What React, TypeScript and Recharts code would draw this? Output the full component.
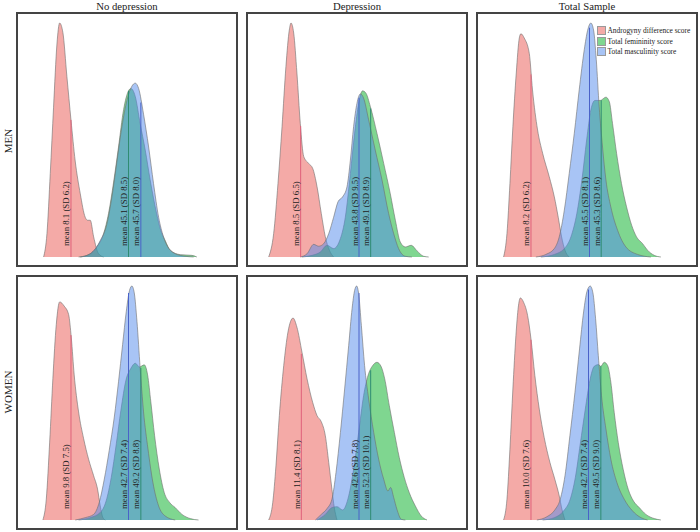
import { AreaChart, Area, XAxis, YAxis, ReferenceLine, Legend } from "recharts";

type Pt = [number, number];
type Mean = { series: number; x: number; top: number; text: string };

const columnTitles = ["No depression", "Depression", "Total Sample"];
const rowTitles = ["MEN", "WOMEN"];
const seriesNames = [
  "Androgyny difference score",
  "Total femininity score",
  "Total masculinity score",
];

// density curves: [score, height as % of the panel's tallest peak]

// men, no depression
const menNoDepAndro: Pt[] = [
  [-10.2, 0], [-8.2, 10], [-6.25, 35.7], [-4.3, 64], [-2.3, 91], [-0.7, 100], [1.2, 96],
  [3.6, 77], [6.0, 58.6], [8.5, 41], [11.5, 27], [14.4, 17], [15.8, 15.7], [17.4, 15.7],
  [19.4, 8.6], [22.3, 1.4], [25.3, 0],
];
const menNoDepFem: Pt[] = [
  [10.5, 0], [15.4, 0.7], [21.3, 4.3], [25.3, 10], [28.2, 18.6], [31.2, 32], [34.1, 47],
  [37.1, 63], [40.0, 71], [41.4, 72], [44.0, 68.6], [46.9, 57], [49.9, 45.7], [52.8, 33],
  [55.8, 21.4], [58.8, 12], [61.7, 7], [64.7, 2.9], [70.6, 1], [77.5, 0.7], [80.4, 0],
];
const menNoDepMasc: Pt[] = [
  [11.5, 0], [17.4, 1.4], [23.3, 7], [27.2, 14], [30.2, 25.7], [33.2, 41], [36.1, 55.7],
  [39.1, 67], [42.0, 73], [44.0, 74.3], [46.0, 72], [48.9, 61], [51.9, 47], [54.8, 31.4],
  [57.8, 17], [60.7, 8.6], [64.7, 2.9], [70.6, 0.7], [78.5, 0],
];
const menNoDepMeans: Mean[] = [
  { series: 0, x: 6.0, top: 58.6, text: "mean 8.1 (SD 6.2)" },
  { series: 1, x: 40.0, top: 71, text: "mean 45.1 (SD 8.5)" },
  { series: 2, x: 47.3, top: 66, text: "mean 45.7 (SD 8.0)" },
];

// men, depression
const menDepAndro: Pt[] = [
  [-13.1, 0], [-10.15, 10], [-7.6, 31.4], [-5.2, 55.7], [-2.9, 81.4], [-0.9, 97], [0.1, 100],
  [1.7, 95.7], [3.6, 78.6], [5.6, 57], [7.6, 43], [10.5, 40], [12.9, 37.9], [15.5, 30],
  [18.0, 18.6], [20.4, 8.6], [22.8, 2.9], [25.3, 0],
];
const menDepFem: Pt[] = [
  [6.6, 0], [12.5, 0.7], [17.4, 2.1], [21.4, 5], [25.3, 3.6], [29.3, 7.9], [32.2, 17],
  [35.2, 35.7], [37.7, 52.9], [40.1, 65.7], [42.4, 71], [44.4, 70], [47.0, 64.3], [50.9, 52.9],
  [54.9, 40], [58.8, 27], [61.8, 15.7], [64.7, 6.4], [67.7, 4.3], [71.2, 5], [74.6, 2.6],
  [78.5, 0.3], [81.5, 0],
];
const menDepMasc: Pt[] = [
  [5.6, 0], [9.6, 1.4], [13.5, 5.4], [16.45, 4.6], [19.4, 5.7], [22.4, 10], [25.3, 17],
  [27.9, 23.6], [30.6, 25.7], [33.2, 30], [35.2, 41.4], [37.1, 55.7], [39.1, 65.7], [41.1, 69.7],
  [43.0, 67.9], [46.0, 58.6], [49.9, 45.7], [53.9, 32.9], [57.8, 18.6], [60.8, 10], [63.7, 3.6],
  [67.7, 0.3], [71.6, 0],
];
const menDepMeans: Mean[] = [
  { series: 0, x: 5.8, top: 56, text: "mean 8.5 (SD 6.5)" },
  { series: 2, x: 40.3, top: 68, text: "mean 43.8 (SD 9.5)" },
  { series: 1, x: 47.2, top: 63.5, text: "mean 49.1 (SD 8.9)" },
];

// men, total sample
const menAllAndro: Pt[] = [
  [-10.2, 0], [-8.2, 10], [-6.45, 31.4], [-4.7, 55.7], [-2.7, 78.6], [-0.9, 93.6], [0.05, 95.4],
  [2.0, 93.6], [5.0, 87], [6.9, 71.4], [9.9, 54.3], [12.9, 44.3], [16.8, 34.3], [19.8, 25.7],
  [22.1, 17], [24.1, 8.6], [26.1, 2.9], [28.6, 0],
];
const menAllFem: Pt[] = [
  [11.9, 0], [19.8, 1.1], [25.7, 3.6], [29.6, 8.6], [33.1, 18.6], [36.1, 32.9], [38.9, 50],
  [41.4, 62.9], [43.8, 66.9], [46.9, 66.9], [50.3, 68.3], [52.3, 66.4], [54.2, 57.1], [56.6, 44.3],
  [59.5, 31.4], [62.5, 21.4], [65.5, 13.6], [68.4, 8.6], [72.0, 5.7], [74.9, 2.9], [78.9, 0.7],
  [82.8, 0],
];
const menAllMasc: Pt[] = [
  [8.9, 0], [14.8, 1.1], [19.8, 3.6], [22.7, 8.6], [25.7, 20], [28.6, 35.7], [31.6, 52.9],
  [34.5, 71.4], [37.5, 88.6], [39.5, 96.9], [41.4, 100], [43.0, 97], [44.6, 84.3], [46.3, 64.3],
  [48.3, 47], [50.3, 32.9], [53.2, 21.4], [57.2, 11.4], [62.1, 4.3], [69.0, 1.1], [76.9, 0],
];
const menAllMeans: Mean[] = [
  { series: 0, x: 6.0, top: 78, text: "mean 8.2 (SD 6.2)" },
  { series: 2, x: 40.6, top: 98, text: "mean 45.5 (SD 8.1)" },
  { series: 1, x: 47.5, top: 67, text: "mean 45.3 (SD 8.6)" },
];

// women, no depression
const womenNoDepAndro: Pt[] = [
  [-10.6, 0], [-8.6, 8.9], [-6.6, 33.3], [-4.7, 60.5], [-2.7, 83.5], [-0.7, 93.2], [2.0, 91.4],
  [4.6, 87.8], [6.2, 77.8], [7.9, 62], [10.5, 46.2], [13.5, 34.7], [16.4, 26], [19.4, 18.9],
  [21.7, 13.2], [23.3, 6], [24.9, 1], [26.3, 0],
];
const womenNoDepFem: Pt[] = [
  [10.5, 0], [17.4, 1], [23.3, 3.2], [26.8, 8.2], [29.8, 18.2], [32.8, 32.6], [35.5, 46.9],
  [38.5, 59.8], [41.4, 64.8], [44.0, 67], [46.5, 65.4], [49.3, 66.3], [51.3, 62], [53.2, 50.5],
  [55.4, 36.2], [58.2, 21.8], [61.1, 11.8], [64.3, 7.5], [67.6, 5.3], [71.6, 2.4], [76.5, 0.6],
  [81.4, 0],
];
const womenNoDepMasc: Pt[] = [
  [8.5, 0], [14.4, 1], [19.4, 2.4], [22.7, 7.5], [25.7, 17.5], [28.6, 29.7], [31.6, 44],
  [34.1, 59.1], [36.5, 74.9], [38.7, 89.2], [40.6, 98.1], [42.0, 100], [43.4, 97.1], [45.0, 84.9],
  [46.9, 64.8], [48.9, 46.2], [51.5, 30.4], [54.4, 16.1], [57.8, 6], [61.7, 1.7], [67.6, 0],
];
const womenNoDepMeans: Mean[] = [
  { series: 0, x: 6.0, top: 79, text: "mean 9.8 (SD 7.5)" },
  { series: 2, x: 40.0, top: 97, text: "mean 42.7 (SD 7.4)" },
  { series: 1, x: 47.3, top: 65, text: "mean 49.2 (SD 8.8)" },
];

// women, depression
const womenDepAndro: Pt[] = [
  [-13.1, 0], [-10.7, 7.4], [-8.8, 23.1], [-6.8, 44.6], [-4.2, 66], [-1.7, 80.3], [1.3, 86.3],
  [3.6, 82.4], [6.6, 71.7], [9.6, 60.3], [12.9, 50.3], [15.5, 44.6], [18.0, 42], [20.4, 36],
  [22.4, 24.6], [24.3, 13.1], [25.7, 5.3], [27.3, 0],
];
const womenDepFem: Pt[] = [
  [15.5, 0], [20.4, 2.4], [24.3, 5.3], [27.3, 5.7], [30.6, 4.3], [34.2, 10.3], [37.1, 21.7],
  [40.1, 37.4], [43.0, 53.1], [45.6, 61.7], [48.4, 66], [50.9, 67.4], [53.3, 65.7], [55.5, 60.3],
  [58.2, 48.9], [61.2, 37.4], [64.1, 26.7], [67.1, 18.1], [70.0, 11.7], [73.6, 6], [77.1, 1.7],
  [80.5, 0],
];
const womenDepMasc: Pt[] = [
  [14.5, 0], [18.0, 2.4], [21.4, 4.9], [24.3, 8.9], [26.7, 20.3], [29.3, 37.4], [31.8, 56],
  [34.2, 74.6], [36.2, 90.3], [37.7, 98.1], [38.9, 100], [40.1, 96.7], [41.7, 83.1], [43.6, 66],
  [46.0, 51.7], [49.0, 37.4], [51.9, 26], [54.9, 17.4], [57.4, 12.4], [59.0, 13.9], [60.8, 9.6],
  [62.7, 4.6], [65.3, 0.3], [67.7, 0],
];
const womenDepMeans: Mean[] = [
  { series: 0, x: 6.2, top: 71, text: "mean 11.4 (SD 8.1)" },
  { series: 2, x: 40.3, top: 97, text: "mean 42.6 (SD 7.8)" },
  { series: 1, x: 47.2, top: 64, text: "mean 52.3 (SD 10.1)" },
];

// women, total sample
const womenAllAndro: Pt[] = [
  [-10.2, 0], [-8.2, 8.9], [-6.45, 30.3], [-4.7, 56], [-2.9, 78.9], [-1.5, 91], [-0.3, 94.9],
  [1.6, 93.1], [4.0, 87.4], [6.0, 77.4], [8.3, 61.7], [10.9, 47.4], [13.8, 35.3], [17.2, 24.6],
  [20.1, 17.4], [22.7, 10.3], [24.3, 4.6], [26.1, 0],
];
const womenAllFem: Pt[] = [
  [12.9, 0], [19.8, 1], [25.3, 3.9], [29.2, 8.9], [32.2, 18.1], [35.1, 32.4], [38.1, 47.4],
  [40.8, 59.6], [43.4, 65.7], [45.8, 66.4], [47.3, 65.7], [49.3, 67.4], [51.3, 66], [53.2, 58.9],
  [55.2, 46], [57.6, 33.1], [60.5, 21.7], [63.5, 13.1], [66.6, 8.1], [70.0, 5.3], [73.9, 2.4],
  [78.9, 0.6], [82.8, 0],
];
const womenAllMasc: Pt[] = [
  [9.5, 0], [15.4, 1.4], [20.1, 4.3], [23.3, 8.9], [26.1, 18.9], [29.0, 36], [32.0, 54.6],
  [34.7, 73.1], [37.1, 88.9], [39.1, 97.7], [41.0, 100], [42.6, 97.1], [44.2, 86], [45.8, 70.3],
  [47.7, 53.1], [50.3, 38.9], [53.2, 26], [56.8, 16], [61.1, 8.9], [66.0, 3.9], [71.0, 1],
  [74.9, 0],
];
const womenAllMeans: Mean[] = [
  { series: 0, x: 6.0, top: 77, text: "mean 10.0 (SD 7.6)" },
  { series: 2, x: 40.0, top: 98.5, text: "mean 42.7 (SD 7.4)" },
  { series: 1, x: 47.3, top: 65.7, text: "mean 49.5 (SD 9.0)" },
];

const panels = [
  { row: 0, col: 0, curves: [menNoDepAndro, menNoDepFem, menNoDepMasc], means: menNoDepMeans },
  { row: 0, col: 1, curves: [menDepAndro, menDepFem, menDepMasc], means: menDepMeans },
  { row: 0, col: 2, curves: [menAllAndro, menAllFem, menAllMasc], means: menAllMeans },
  { row: 1, col: 0, curves: [womenNoDepAndro, womenNoDepFem, womenNoDepMasc], means: womenNoDepMeans },
  { row: 1, col: 1, curves: [womenDepAndro, womenDepFem, womenDepMasc], means: womenDepMeans },
  { row: 1, col: 2, curves: [womenAllAndro, womenAllFem, womenAllMasc], means: womenAllMeans },
];

const serif = '"Liberation Serif", "Times New Roman", serif';
const FILLS = ["#ea5550", "#00ad21", "#5189eb"];
const LINE_COLORS = ["#e0607a", "#2f8c72", "#4a62c8"];
const COL_LEFT = [16, 246, 476];
const ROW_TOP = [12, 275];
const BOX_W = 222;
const BOX_H = 255;

function MeanLabel({ viewBox, text }: any) {
  if (!viewBox) return null;
  const x = viewBox.x - 1.5;
  const y = viewBox.y + viewBox.height - 11;
  return (
    <text x={x} y={y} transform={`rotate(-90 ${x} ${y})`} fontFamily={serif} fontSize={8.8} fill="#222">
      {text}
    </text>
  );
}

function LegendBox() {
  return (
    <div style={{ fontFamily: serif, fontSize: 7.4, color: "#222", whiteSpace: "nowrap" }}>
      {seriesNames.map((name, i) => (
        <div key={name} style={{ display: "flex", alignItems: "center", height: 10.8 }}>
          <span
            style={{
              display: "inline-block",
              width: 9,
              height: 9,
              boxSizing: "border-box",
              border: "1px solid #9a9a9a",
              background: FILLS[i] + "80",
              marginRight: 1.5,
            }}
          />
          {name}
        </div>
      ))}
    </div>
  );
}

function DensityPanel({ curves, means, showLegend }: { curves: Pt[][]; means: Mean[]; showLegend: boolean }) {
  return (
    <AreaChart width={BOX_W} height={BOX_H} margin={{ top: 11, right: 8, bottom: 10, left: 11 }}>
      <XAxis
        type="number"
        dataKey="x"
        domain={[-20, 100]}
        allowDataOverflow
        tick={false}
        tickLine={false}
        height={0}
        axisLine={{ stroke: "#8c8c8c", strokeWidth: 2 }}
      />
      <YAxis type="number" domain={[0, 100]} hide />
      {curves.map((pts, i) => (
        <Area
          key={seriesNames[i]}
          name={seriesNames[i]}
          data={pts.map(([x, d]) => ({ x, d }))}
          dataKey="d"
          type="monotone"
          fill={FILLS[i]}
          fillOpacity={0.5}
          stroke="#6f6f6f"
          strokeWidth={0.6}
          isAnimationActive={false}
        />
      ))}
      {means.map((m) => (
        <ReferenceLine
          key={m.text}
          segment={[{ x: m.x, y: 0 }, { x: m.x, y: m.top }]}
          stroke={LINE_COLORS[m.series]}
          strokeWidth={1}
          label={<MeanLabel text={m.text} />}
        />
      ))}
      {showLegend && (
        <Legend
          layout="vertical"
          align="center"
          verticalAlign="middle"
          wrapperStyle={{ top: 13, left: 121, width: 100 }}
          content={<LegendBox />}
        />
      )}
    </AreaChart>
  );
}

export default function App() {
  return (
    <div style={{ position: "absolute", left: 0, top: 0, width: 700, height: 532, background: "#fff" }}>
      <svg width={700} height={532} style={{ position: "absolute", left: 0, top: 0 }}>
        {columnTitles.map((t, i) => (
          <text key={t} x={COL_LEFT[i] + BOX_W / 2} y={9.5} textAnchor="middle" fontFamily={serif} fontSize={10.7} fill="#222">
            {t}
          </text>
        ))}
        {rowTitles.map((t, i) => {
          const y = i === 0 ? 141 : 392;
          return (
            <text key={t} x={12} y={y} textAnchor="middle" transform={`rotate(-90 12 ${y})`} fontFamily={serif} fontSize={11} fill="#222">
              {t}
            </text>
          );
        })}
      </svg>
      {panels.map((p) => (
        <div
          key={`${p.row}-${p.col}`}
          style={{
            position: "absolute",
            left: COL_LEFT[p.col],
            top: ROW_TOP[p.row],
            width: BOX_W,
            height: BOX_H,
            overflow: "hidden",
          }}
        >
          <DensityPanel curves={p.curves} means={p.means} showLegend={p.row === 0 && p.col === 2} />
          <div
            style={{
              position: "absolute",
              inset: 0,
              border: "2px solid #444",
              boxSizing: "border-box",
              pointerEvents: "none",
            }}
          />
        </div>
      ))}
    </div>
  );
}
